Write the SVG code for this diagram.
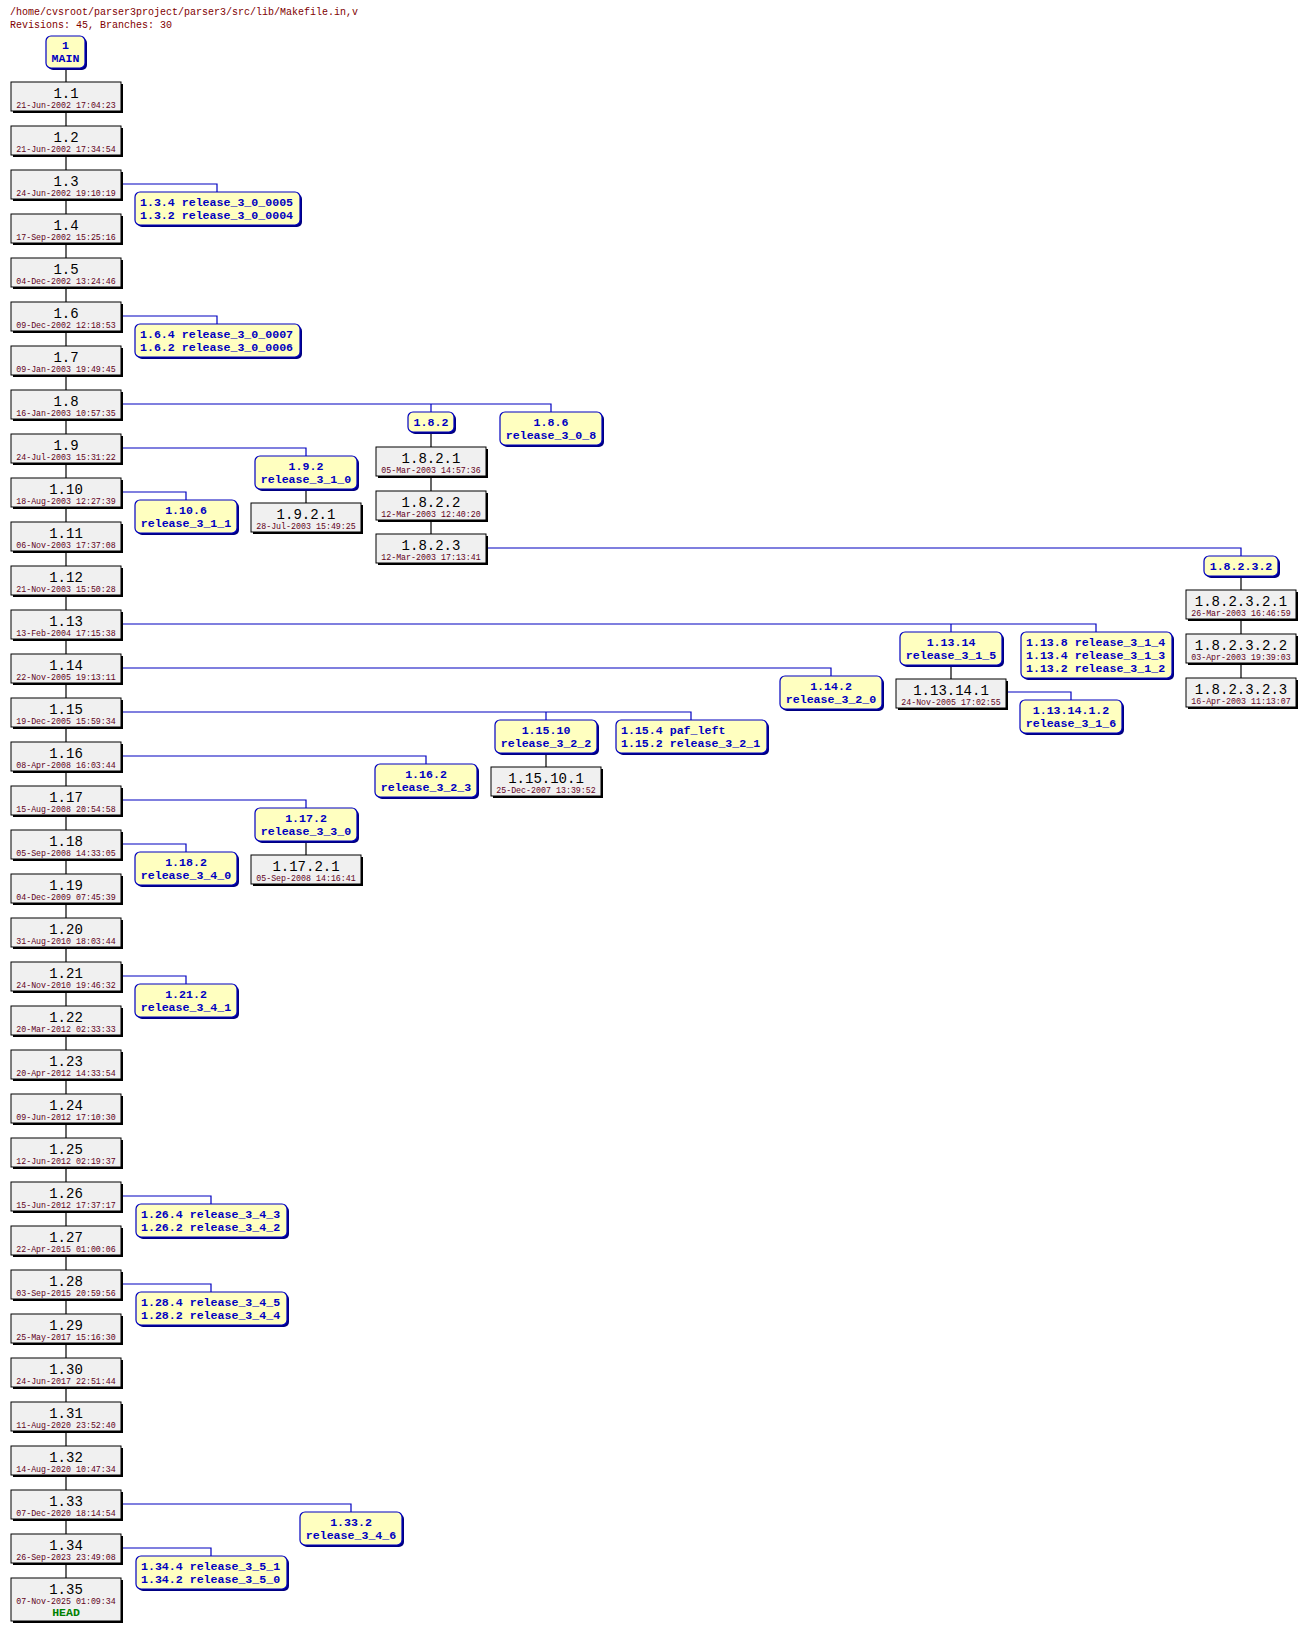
<svg xmlns="http://www.w3.org/2000/svg" width="1305" height="1631" viewBox="0 0 1305 1631">
<style>
.bg{fill:#ffffff}
.ttl{font-family:"Liberation Mono",monospace;font-size:10px;fill:#800000}
.sh{fill:#000000}
.lsh{fill:#000080}
.rv{fill:#f0f0f0;stroke:#000000;stroke-width:1}
.lb{fill:#ffffc0;stroke:#0000c0;stroke-width:1.2}
.rn{font-family:"Liberation Mono",monospace;font-size:14px;fill:#000000;text-anchor:middle}
.dt{font-family:"Liberation Mono",monospace;font-size:8.3px;fill:#600020;text-anchor:middle}
.hd{font-family:"Liberation Mono",monospace;font-size:11.5px;font-weight:bold;fill:#008000;text-anchor:middle}
.tg{font-family:"Liberation Mono",monospace;font-size:11.6px;font-weight:bold;fill:#0000c0;text-anchor:middle}
.tl{font-family:"Liberation Mono",monospace;font-size:11.6px;font-weight:bold;fill:#0000c0;text-anchor:start}
.tk{stroke:#000000;stroke-width:1.2;fill:none}
.br{stroke:#0000c0;stroke-width:1.2;fill:none}
</style>
<rect class="bg" x="0" y="0" width="1305" height="1631"/>
<text class="ttl" x="10" y="15">/home/cvsroot/parser3project/parser3/src/lib/Makefile.in,v</text>
<text class="ttl" x="10" y="28">Revisions: 45, Branches: 30</text>

<g id="connectors">
<line class="tk" x1="66" y1="68" x2="66" y2="1578"/>
<line class="tk" x1="431" y1="432" x2="431" y2="534"/>
<line class="tk" x1="1241" y1="576" x2="1241" y2="678"/>
<line class="tk" x1="306" y1="489" x2="306" y2="503"/>
<line class="tk" x1="306" y1="841" x2="306" y2="855"/>
<line class="tk" x1="951" y1="665" x2="951" y2="679"/>
<line class="tk" x1="546" y1="753" x2="546" y2="767"/>
<polyline class="br" points="121,184 217,184 217,192"/>
<polyline class="br" points="121,316 217,316 217,324"/>
<polyline class="br" points="121,404 551,404 551,412"/>
<line class="br" x1="431" y1="404" x2="431" y2="412"/>
<polyline class="br" points="121,448 306,448 306,456"/>
<polyline class="br" points="121,492 186,492 186,500"/>
<polyline class="br" points="486,548 1241,548 1241,556"/>
<polyline class="br" points="121,624 1096,624 1096,632"/>
<line class="br" x1="951" y1="624" x2="951" y2="632"/>
<polyline class="br" points="1006,692 1071,692 1071,700"/>
<polyline class="br" points="121,668 831,668 831,676"/>
<polyline class="br" points="121,712 691,712 691,720"/>
<line class="br" x1="546" y1="712" x2="546" y2="720"/>
<polyline class="br" points="121,756 426,756 426,764"/>
<polyline class="br" points="121,800 306,800 306,808"/>
<polyline class="br" points="121,844 186,844 186,852"/>
<polyline class="br" points="121,976 186,976 186,984"/>
<polyline class="br" points="121,1196 211,1196 211,1204"/>
<polyline class="br" points="121,1284 211,1284 211,1292"/>
<polyline class="br" points="121,1504 351,1504 351,1512"/>
<polyline class="br" points="121,1548 211,1548 211,1556"/>
</g>

<g id="main"><rect class="lsh" x="48" y="38" width="39" height="32" rx="5"/><rect class="lb" x="46" y="36" width="39" height="32" rx="5"/><text class="tg" x="65.5" y="49">1</text><text class="tg" x="65.5" y="62">MAIN</text></g>

<g id="r1_1"><rect class="sh" x="13" y="84" width="110" height="29"/><rect class="rv" x="11" y="82" width="110" height="29"/><text class="rn" x="66" y="98">1.1</text><text class="dt" x="66" y="108">21-Jun-2002 17:04:23</text></g>
<g id="r1_2"><rect class="sh" x="13" y="128" width="110" height="29"/><rect class="rv" x="11" y="126" width="110" height="29"/><text class="rn" x="66" y="142">1.2</text><text class="dt" x="66" y="152">21-Jun-2002 17:34:54</text></g>
<g id="r1_3"><rect class="sh" x="13" y="172" width="110" height="29"/><rect class="rv" x="11" y="170" width="110" height="29"/><text class="rn" x="66" y="186">1.3</text><text class="dt" x="66" y="196">24-Jun-2002 19:10:19</text></g>
<g id="r1_4"><rect class="sh" x="13" y="216" width="110" height="29"/><rect class="rv" x="11" y="214" width="110" height="29"/><text class="rn" x="66" y="230">1.4</text><text class="dt" x="66" y="240">17-Sep-2002 15:25:16</text></g>
<g id="r1_5"><rect class="sh" x="13" y="260" width="110" height="29"/><rect class="rv" x="11" y="258" width="110" height="29"/><text class="rn" x="66" y="274">1.5</text><text class="dt" x="66" y="284">04-Dec-2002 13:24:46</text></g>
<g id="r1_6"><rect class="sh" x="13" y="304" width="110" height="29"/><rect class="rv" x="11" y="302" width="110" height="29"/><text class="rn" x="66" y="318">1.6</text><text class="dt" x="66" y="328">09-Dec-2002 12:18:53</text></g>
<g id="r1_7"><rect class="sh" x="13" y="348" width="110" height="29"/><rect class="rv" x="11" y="346" width="110" height="29"/><text class="rn" x="66" y="362">1.7</text><text class="dt" x="66" y="372">09-Jan-2003 19:49:45</text></g>
<g id="r1_8"><rect class="sh" x="13" y="392" width="110" height="29"/><rect class="rv" x="11" y="390" width="110" height="29"/><text class="rn" x="66" y="406">1.8</text><text class="dt" x="66" y="416">16-Jan-2003 10:57:35</text></g>
<g id="r1_9"><rect class="sh" x="13" y="436" width="110" height="29"/><rect class="rv" x="11" y="434" width="110" height="29"/><text class="rn" x="66" y="450">1.9</text><text class="dt" x="66" y="460">24-Jul-2003 15:31:22</text></g>
<g id="r1_10"><rect class="sh" x="13" y="480" width="110" height="29"/><rect class="rv" x="11" y="478" width="110" height="29"/><text class="rn" x="66" y="494">1.10</text><text class="dt" x="66" y="504">18-Aug-2003 12:27:39</text></g>
<g id="r1_11"><rect class="sh" x="13" y="524" width="110" height="29"/><rect class="rv" x="11" y="522" width="110" height="29"/><text class="rn" x="66" y="538">1.11</text><text class="dt" x="66" y="548">06-Nov-2003 17:37:08</text></g>
<g id="r1_12"><rect class="sh" x="13" y="568" width="110" height="29"/><rect class="rv" x="11" y="566" width="110" height="29"/><text class="rn" x="66" y="582">1.12</text><text class="dt" x="66" y="592">21-Nov-2003 15:50:28</text></g>
<g id="r1_13"><rect class="sh" x="13" y="612" width="110" height="29"/><rect class="rv" x="11" y="610" width="110" height="29"/><text class="rn" x="66" y="626">1.13</text><text class="dt" x="66" y="636">13-Feb-2004 17:15:38</text></g>
<g id="r1_14"><rect class="sh" x="13" y="656" width="110" height="29"/><rect class="rv" x="11" y="654" width="110" height="29"/><text class="rn" x="66" y="670">1.14</text><text class="dt" x="66" y="680">22-Nov-2005 19:13:11</text></g>
<g id="r1_15"><rect class="sh" x="13" y="700" width="110" height="29"/><rect class="rv" x="11" y="698" width="110" height="29"/><text class="rn" x="66" y="714">1.15</text><text class="dt" x="66" y="724">19-Dec-2005 15:59:34</text></g>
<g id="r1_16"><rect class="sh" x="13" y="744" width="110" height="29"/><rect class="rv" x="11" y="742" width="110" height="29"/><text class="rn" x="66" y="758">1.16</text><text class="dt" x="66" y="768">08-Apr-2008 16:03:44</text></g>
<g id="r1_17"><rect class="sh" x="13" y="788" width="110" height="29"/><rect class="rv" x="11" y="786" width="110" height="29"/><text class="rn" x="66" y="802">1.17</text><text class="dt" x="66" y="812">15-Aug-2008 20:54:58</text></g>
<g id="r1_18"><rect class="sh" x="13" y="832" width="110" height="29"/><rect class="rv" x="11" y="830" width="110" height="29"/><text class="rn" x="66" y="846">1.18</text><text class="dt" x="66" y="856">05-Sep-2008 14:33:05</text></g>
<g id="r1_19"><rect class="sh" x="13" y="876" width="110" height="29"/><rect class="rv" x="11" y="874" width="110" height="29"/><text class="rn" x="66" y="890">1.19</text><text class="dt" x="66" y="900">04-Dec-2009 07:45:39</text></g>
<g id="r1_20"><rect class="sh" x="13" y="920" width="110" height="29"/><rect class="rv" x="11" y="918" width="110" height="29"/><text class="rn" x="66" y="934">1.20</text><text class="dt" x="66" y="944">31-Aug-2010 18:03:44</text></g>
<g id="r1_21"><rect class="sh" x="13" y="964" width="110" height="29"/><rect class="rv" x="11" y="962" width="110" height="29"/><text class="rn" x="66" y="978">1.21</text><text class="dt" x="66" y="988">24-Nov-2010 19:46:32</text></g>
<g id="r1_22"><rect class="sh" x="13" y="1008" width="110" height="29"/><rect class="rv" x="11" y="1006" width="110" height="29"/><text class="rn" x="66" y="1022">1.22</text><text class="dt" x="66" y="1032">20-Mar-2012 02:33:33</text></g>
<g id="r1_23"><rect class="sh" x="13" y="1052" width="110" height="29"/><rect class="rv" x="11" y="1050" width="110" height="29"/><text class="rn" x="66" y="1066">1.23</text><text class="dt" x="66" y="1076">20-Apr-2012 14:33:54</text></g>
<g id="r1_24"><rect class="sh" x="13" y="1096" width="110" height="29"/><rect class="rv" x="11" y="1094" width="110" height="29"/><text class="rn" x="66" y="1110">1.24</text><text class="dt" x="66" y="1120">09-Jun-2012 17:10:30</text></g>
<g id="r1_25"><rect class="sh" x="13" y="1140" width="110" height="29"/><rect class="rv" x="11" y="1138" width="110" height="29"/><text class="rn" x="66" y="1154">1.25</text><text class="dt" x="66" y="1164">12-Jun-2012 02:19:37</text></g>
<g id="r1_26"><rect class="sh" x="13" y="1184" width="110" height="29"/><rect class="rv" x="11" y="1182" width="110" height="29"/><text class="rn" x="66" y="1198">1.26</text><text class="dt" x="66" y="1208">15-Jun-2012 17:37:17</text></g>
<g id="r1_27"><rect class="sh" x="13" y="1228" width="110" height="29"/><rect class="rv" x="11" y="1226" width="110" height="29"/><text class="rn" x="66" y="1242">1.27</text><text class="dt" x="66" y="1252">22-Apr-2015 01:00:06</text></g>
<g id="r1_28"><rect class="sh" x="13" y="1272" width="110" height="29"/><rect class="rv" x="11" y="1270" width="110" height="29"/><text class="rn" x="66" y="1286">1.28</text><text class="dt" x="66" y="1296">03-Sep-2015 20:59:56</text></g>
<g id="r1_29"><rect class="sh" x="13" y="1316" width="110" height="29"/><rect class="rv" x="11" y="1314" width="110" height="29"/><text class="rn" x="66" y="1330">1.29</text><text class="dt" x="66" y="1340">25-May-2017 15:16:30</text></g>
<g id="r1_30"><rect class="sh" x="13" y="1360" width="110" height="29"/><rect class="rv" x="11" y="1358" width="110" height="29"/><text class="rn" x="66" y="1374">1.30</text><text class="dt" x="66" y="1384">24-Jun-2017 22:51:44</text></g>
<g id="r1_31"><rect class="sh" x="13" y="1404" width="110" height="29"/><rect class="rv" x="11" y="1402" width="110" height="29"/><text class="rn" x="66" y="1418">1.31</text><text class="dt" x="66" y="1428">11-Aug-2020 23:52:40</text></g>
<g id="r1_32"><rect class="sh" x="13" y="1448" width="110" height="29"/><rect class="rv" x="11" y="1446" width="110" height="29"/><text class="rn" x="66" y="1462">1.32</text><text class="dt" x="66" y="1472">14-Aug-2020 10:47:34</text></g>
<g id="r1_33"><rect class="sh" x="13" y="1492" width="110" height="29"/><rect class="rv" x="11" y="1490" width="110" height="29"/><text class="rn" x="66" y="1506">1.33</text><text class="dt" x="66" y="1516">07-Dec-2020 18:14:54</text></g>
<g id="r1_34"><rect class="sh" x="13" y="1536" width="110" height="29"/><rect class="rv" x="11" y="1534" width="110" height="29"/><text class="rn" x="66" y="1550">1.34</text><text class="dt" x="66" y="1560">26-Sep-2023 23:49:08</text></g>
<g id="r1_35"><rect class="sh" x="13" y="1580" width="110" height="43"/><rect class="rv" x="11" y="1578" width="110" height="43"/><text class="rn" x="66" y="1594">1.35</text><text class="dt" x="66" y="1604">07-Nov-2025 01:09:34</text><text class="hd" x="66" y="1616">HEAD</text></g>

<g id="r1_8_2_1"><rect class="sh" x="378" y="449" width="110" height="29"/><rect class="rv" x="376" y="447" width="110" height="29"/><text class="rn" x="431" y="463">1.8.2.1</text><text class="dt" x="431" y="473">05-Mar-2003 14:57:36</text></g>
<g id="r1_8_2_2"><rect class="sh" x="378" y="493" width="110" height="29"/><rect class="rv" x="376" y="491" width="110" height="29"/><text class="rn" x="431" y="507">1.8.2.2</text><text class="dt" x="431" y="517">12-Mar-2003 12:40:20</text></g>
<g id="r1_8_2_3"><rect class="sh" x="378" y="536" width="110" height="29"/><rect class="rv" x="376" y="534" width="110" height="29"/><text class="rn" x="431" y="550">1.8.2.3</text><text class="dt" x="431" y="560">12-Mar-2003 17:13:41</text></g>
<g id="r1_9_2_1"><rect class="sh" x="253" y="505" width="110" height="29"/><rect class="rv" x="251" y="503" width="110" height="29"/><text class="rn" x="306" y="519">1.9.2.1</text><text class="dt" x="306" y="529">28-Jul-2003 15:49:25</text></g>
<g id="r1_8_2_3_2_1"><rect class="sh" x="1188" y="592" width="110" height="29"/><rect class="rv" x="1186" y="590" width="110" height="29"/><text class="rn" x="1241" y="606">1.8.2.3.2.1</text><text class="dt" x="1241" y="616">26-Mar-2003 16:46:59</text></g>
<g id="r1_8_2_3_2_2"><rect class="sh" x="1188" y="636" width="110" height="29"/><rect class="rv" x="1186" y="634" width="110" height="29"/><text class="rn" x="1241" y="650">1.8.2.3.2.2</text><text class="dt" x="1241" y="660">03-Apr-2003 19:39:03</text></g>
<g id="r1_8_2_3_2_3"><rect class="sh" x="1188" y="680" width="110" height="29"/><rect class="rv" x="1186" y="678" width="110" height="29"/><text class="rn" x="1241" y="694">1.8.2.3.2.3</text><text class="dt" x="1241" y="704">16-Apr-2003 11:13:07</text></g>
<g id="r1_13_14_1"><rect class="sh" x="898" y="681" width="110" height="29"/><rect class="rv" x="896" y="679" width="110" height="29"/><text class="rn" x="951" y="695">1.13.14.1</text><text class="dt" x="951" y="705">24-Nov-2005 17:02:55</text></g>
<g id="r1_15_10_1"><rect class="sh" x="493" y="769" width="110" height="29"/><rect class="rv" x="491" y="767" width="110" height="29"/><text class="rn" x="546" y="783">1.15.10.1</text><text class="dt" x="546" y="793">25-Dec-2007 13:39:52</text></g>
<g id="r1_17_2_1"><rect class="sh" x="253" y="857" width="110" height="29"/><rect class="rv" x="251" y="855" width="110" height="29"/><text class="rn" x="306" y="871">1.17.2.1</text><text class="dt" x="306" y="881">05-Sep-2008 14:16:41</text></g>

<g id="b1_3"><rect class="lsh" x="137" y="194" width="165" height="33" rx="5"/><rect class="lb" x="135" y="192" width="165" height="33" rx="5"/><text class="tl" x="140" y="206">1.3.4 release_3_0_0005</text><text class="tl" x="140" y="219">1.3.2 release_3_0_0004</text></g>
<g id="b1_6"><rect class="lsh" x="137" y="326" width="165" height="33" rx="5"/><rect class="lb" x="135" y="324" width="165" height="33" rx="5"/><text class="tl" x="140" y="338">1.6.4 release_3_0_0007</text><text class="tl" x="140" y="351">1.6.2 release_3_0_0006</text></g>
<g id="b1_8_2"><rect class="lsh" x="410" y="414" width="46" height="20" rx="5"/><rect class="lb" x="408" y="412" width="46" height="20" rx="5"/><text class="tg" x="431" y="426">1.8.2</text></g>
<g id="b1_8_6"><rect class="lsh" x="502" y="414" width="102" height="33" rx="5"/><rect class="lb" x="500" y="412" width="102" height="33" rx="5"/><text class="tg" x="551" y="426">1.8.6</text><text class="tg" x="551" y="439">release_3_0_8</text></g>
<g id="b1_9_2"><rect class="lsh" x="257" y="458" width="102" height="33" rx="5"/><rect class="lb" x="255" y="456" width="102" height="33" rx="5"/><text class="tg" x="306" y="470">1.9.2</text><text class="tg" x="306" y="483">release_3_1_0</text></g>
<g id="b1_10_6"><rect class="lsh" x="137" y="502" width="102" height="33" rx="5"/><rect class="lb" x="135" y="500" width="102" height="33" rx="5"/><text class="tg" x="186" y="514">1.10.6</text><text class="tg" x="186" y="527">release_3_1_1</text></g>
<g id="b1_8_2_3_2"><rect class="lsh" x="1206" y="558" width="74" height="20" rx="5"/><rect class="lb" x="1204" y="556" width="74" height="20" rx="5"/><text class="tg" x="1241" y="570">1.8.2.3.2</text></g>
<g id="b1_13_14"><rect class="lsh" x="902" y="634" width="102" height="33" rx="5"/><rect class="lb" x="900" y="632" width="102" height="33" rx="5"/><text class="tg" x="951" y="646">1.13.14</text><text class="tg" x="951" y="659">release_3_1_5</text></g>
<g id="b1_13_8"><rect class="lsh" x="1023" y="634" width="151" height="46" rx="5"/><rect class="lb" x="1021" y="632" width="151" height="46" rx="5"/><text class="tl" x="1026" y="646">1.13.8 release_3_1_4</text><text class="tl" x="1026" y="659">1.13.4 release_3_1_3</text><text class="tl" x="1026" y="672">1.13.2 release_3_1_2</text></g>
<g id="b1_13_14_1_2"><rect class="lsh" x="1022" y="702" width="102" height="33" rx="5"/><rect class="lb" x="1020" y="700" width="102" height="33" rx="5"/><text class="tg" x="1071" y="714">1.13.14.1.2</text><text class="tg" x="1071" y="727">release_3_1_6</text></g>
<g id="b1_14_2"><rect class="lsh" x="782" y="678" width="102" height="33" rx="5"/><rect class="lb" x="780" y="676" width="102" height="33" rx="5"/><text class="tg" x="831" y="690">1.14.2</text><text class="tg" x="831" y="703">release_3_2_0</text></g>
<g id="b1_15_10"><rect class="lsh" x="497" y="722" width="102" height="33" rx="5"/><rect class="lb" x="495" y="720" width="102" height="33" rx="5"/><text class="tg" x="546" y="734">1.15.10</text><text class="tg" x="546" y="747">release_3_2_2</text></g>
<g id="b1_15_4"><rect class="lsh" x="618" y="722" width="151" height="33" rx="5"/><rect class="lb" x="616" y="720" width="151" height="33" rx="5"/><text class="tl" x="621" y="734">1.15.4 paf_left</text><text class="tl" x="621" y="747">1.15.2 release_3_2_1</text></g>
<g id="b1_16_2"><rect class="lsh" x="377" y="766" width="102" height="33" rx="5"/><rect class="lb" x="375" y="764" width="102" height="33" rx="5"/><text class="tg" x="426" y="778">1.16.2</text><text class="tg" x="426" y="791">release_3_2_3</text></g>
<g id="b1_17_2"><rect class="lsh" x="257" y="810" width="102" height="33" rx="5"/><rect class="lb" x="255" y="808" width="102" height="33" rx="5"/><text class="tg" x="306" y="822">1.17.2</text><text class="tg" x="306" y="835">release_3_3_0</text></g>
<g id="b1_18_2"><rect class="lsh" x="137" y="854" width="102" height="33" rx="5"/><rect class="lb" x="135" y="852" width="102" height="33" rx="5"/><text class="tg" x="186" y="866">1.18.2</text><text class="tg" x="186" y="879">release_3_4_0</text></g>
<g id="b1_21_2"><rect class="lsh" x="137" y="986" width="102" height="33" rx="5"/><rect class="lb" x="135" y="984" width="102" height="33" rx="5"/><text class="tg" x="186" y="998">1.21.2</text><text class="tg" x="186" y="1011">release_3_4_1</text></g>
<g id="b1_26"><rect class="lsh" x="138" y="1206" width="151" height="33" rx="5"/><rect class="lb" x="136" y="1204" width="151" height="33" rx="5"/><text class="tl" x="141" y="1218">1.26.4 release_3_4_3</text><text class="tl" x="141" y="1231">1.26.2 release_3_4_2</text></g>
<g id="b1_28"><rect class="lsh" x="138" y="1294" width="151" height="33" rx="5"/><rect class="lb" x="136" y="1292" width="151" height="33" rx="5"/><text class="tl" x="141" y="1306">1.28.4 release_3_4_5</text><text class="tl" x="141" y="1319">1.28.2 release_3_4_4</text></g>
<g id="b1_33_2"><rect class="lsh" x="302" y="1514" width="102" height="33" rx="5"/><rect class="lb" x="300" y="1512" width="102" height="33" rx="5"/><text class="tg" x="351" y="1526">1.33.2</text><text class="tg" x="351" y="1539">release_3_4_6</text></g>
<g id="b1_34"><rect class="lsh" x="138" y="1558" width="151" height="33" rx="5"/><rect class="lb" x="136" y="1556" width="151" height="33" rx="5"/><text class="tl" x="141" y="1570">1.34.4 release_3_5_1</text><text class="tl" x="141" y="1583">1.34.2 release_3_5_0</text></g>
</svg>
